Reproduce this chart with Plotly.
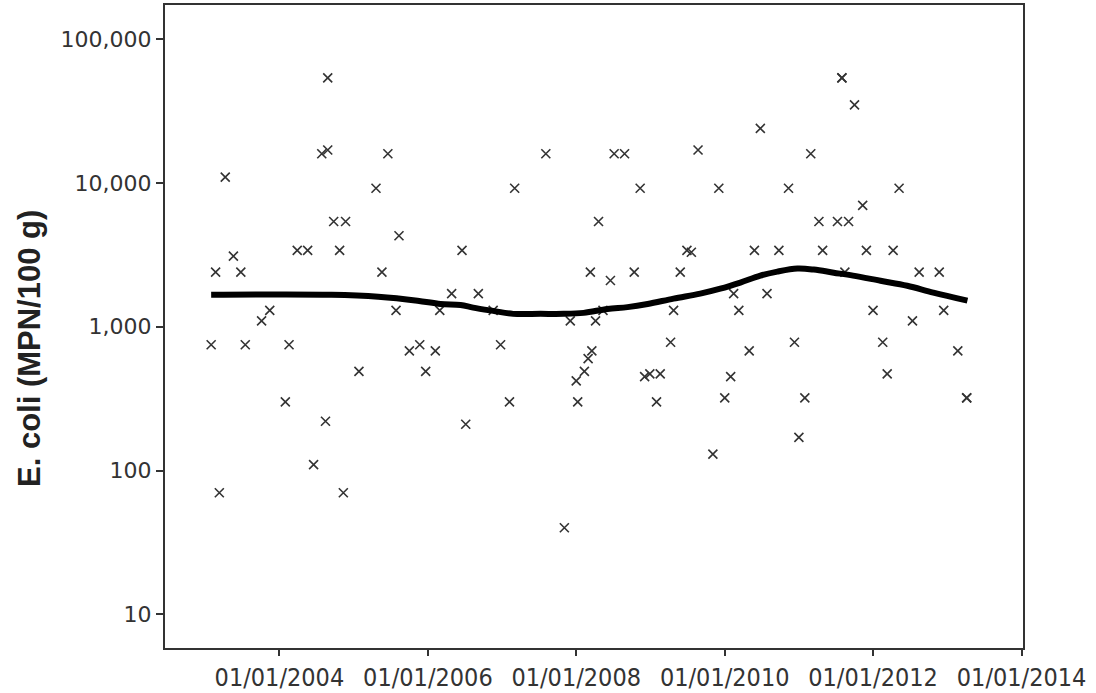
import pandas as pd
import plotly.graph_objects as go

# Sample dates as decimal years and E. coli results (MPN/100 g)
sample_year = [
    2003.08, 2003.14, 2003.19, 2003.27, 2003.38, 2003.48, 2003.54, 2003.76, 2003.87,
    2004.08, 2004.13, 2004.24, 2004.38, 2004.46, 2004.57, 2004.62, 2004.65, 2004.65,
    2004.73, 2004.81, 2004.86, 2004.89, 2005.07, 2005.30, 2005.38, 2005.46, 2005.57,
    2005.61, 2005.75, 2005.89, 2005.97, 2006.10, 2006.16, 2006.32, 2006.46, 2006.51,
    2006.68, 2006.88, 2006.98, 2007.10, 2007.17, 2007.59, 2007.84, 2007.92, 2008.00,
    2008.02, 2008.11, 2008.16, 2008.19, 2008.21, 2008.26, 2008.30, 2008.36, 2008.46,
    2008.51, 2008.65, 2008.78, 2008.86, 2008.92, 2008.99, 2009.08, 2009.13, 2009.27,
    2009.31, 2009.40, 2009.49, 2009.55, 2009.64, 2009.84, 2009.92, 2010.00, 2010.08,
    2010.12, 2010.19, 2010.33, 2010.40, 2010.48, 2010.57, 2010.73, 2010.86, 2010.94,
    2011.00, 2011.08, 2011.16, 2011.27, 2011.32, 2011.52, 2011.58, 2011.58, 2011.62,
    2011.67, 2011.75, 2011.86, 2011.91, 2012.00, 2012.13, 2012.19, 2012.27, 2012.35,
    2012.53, 2012.62, 2012.89, 2012.95, 2013.14, 2013.26, 2013.26,
]
ecoli_mpn = [
    750, 2400, 70, 11000, 3100, 2400, 750, 1100, 1300,
    300, 750, 3400, 3400, 110, 16000, 220, 17000, 54000,
    5400, 3400, 70, 5400, 490, 9200, 2400, 16000, 1300,
    4300, 680, 750, 490, 680, 1300, 1700, 3400, 210,
    1700, 1300, 750, 300, 9200, 16000, 40, 1100, 420,
    300, 490, 600, 2400, 680, 1100, 5400, 1300, 2100,
    16000, 16000, 2400, 9200, 450, 470, 300, 470, 780,
    1300, 2400, 3400, 3300, 17000, 130, 9200, 320, 450,
    1700, 1300, 680, 3400, 24000, 1700, 3400, 9200, 780,
    170, 320, 16000, 5400, 3400, 5400, 54000, 54000, 2400,
    5400, 35000, 7000, 3400, 1300, 780, 470, 3400, 9200,
    1100, 2400, 2400, 1300, 680, 320, 320,
]

# Smoothed trend through the results
trend_year = [
    2003.08, 2004.70, 2005.33, 2005.86, 2006.17, 2006.44, 2006.61, 2006.88,
    2007.15, 2007.52, 2007.83, 2008.10, 2008.42, 2008.69, 2008.96, 2009.31,
    2009.67, 2009.94, 2010.21, 2010.48, 2010.71, 2010.98, 2011.20, 2011.47,
    2011.73, 2012.10, 2012.46, 2012.81, 2013.27,
]
trend_mpn = [
    1670, 1670, 1620, 1520, 1440, 1420, 1360, 1290,
    1230, 1230, 1230, 1250, 1330, 1370, 1440, 1570,
    1700, 1840, 2030, 2270, 2420, 2540, 2500, 2380,
    2270, 2090, 1930, 1730, 1520,
]

# Axis ticks
x_tick_dates = ["2004-01-01", "2006-01-01", "2008-01-01", "2010-01-01", "2012-01-01", "2014-01-01"]
x_tick_text = ["01/01/2004", "01/01/2006", "01/01/2008", "01/01/2010", "01/01/2012", "01/01/2014"]
y_tick_vals = [10, 100, 1000, 10000, 100000]
y_tick_text = ["10", "100", "1,000", "10,000", "100,000"]


def to_date(year_frac):
    year = int(year_frac)
    start = pd.Timestamp(year=year, month=1, day=1)
    days = (pd.Timestamp(year=year + 1, month=1, day=1) - start).days
    return start + pd.Timedelta(days=(year_frac - year) * days)


sample_dates = [to_date(y) for y in sample_year]
trend_dates = [to_date(y) for y in trend_year]

fig = go.Figure()
fig.add_trace(go.Scatter(
    x=sample_dates, y=ecoli_mpn, mode="markers",
    marker=dict(symbol="x-thin-open", size=9, color="#333333",
                line=dict(width=1.6, color="#333333")),
    showlegend=False,
))
fig.add_trace(go.Scatter(
    x=trend_dates, y=trend_mpn, mode="lines",
    line=dict(color="black", width=6, shape="spline", smoothing=1.0),
    showlegend=False,
))

axis_line = dict(showline=True, linecolor="#333333", linewidth=2, mirror=True,
                 showgrid=False, zeroline=False, ticks="outside",
                 tickcolor="#333333", tickwidth=2, automargin=False)

fig.update_xaxes(
    type="date", range=["2002-06-17", "2014-01-08"],
    tickvals=x_tick_dates, ticktext=x_tick_text, ticklen=6,
    tickfont=dict(family="DejaVu Sans Condensed, Liberation Sans Narrow, Roboto Condensed, Liberation Sans",
                  size=25, color="#333333"),
    **axis_line,
)
fig.update_yaxes(
    type="log", range=[0.765, 5.239],
    tickvals=y_tick_vals, ticktext=y_tick_text, ticklen=7,
    tickfont=dict(family="DejaVu Sans", size=22, color="#333333"),
    **axis_line,
)

# Rotated y-axis title
fig.add_annotation(
    text="E. coli (MPN/100 g)", textangle=-90,
    xref="paper", yref="paper", x=-0.1585, y=0.465,
    xanchor="center", yanchor="middle", showarrow=False,
    font=dict(family="Liberation Sans", size=31, color="#222222", weight="bold"),
)

fig.update_layout(
    width=1096, height=693,
    margin=dict(l=165, r=73, t=5, b=45),
    paper_bgcolor="white", plot_bgcolor="white",
)

fig.write_html("out.html")
